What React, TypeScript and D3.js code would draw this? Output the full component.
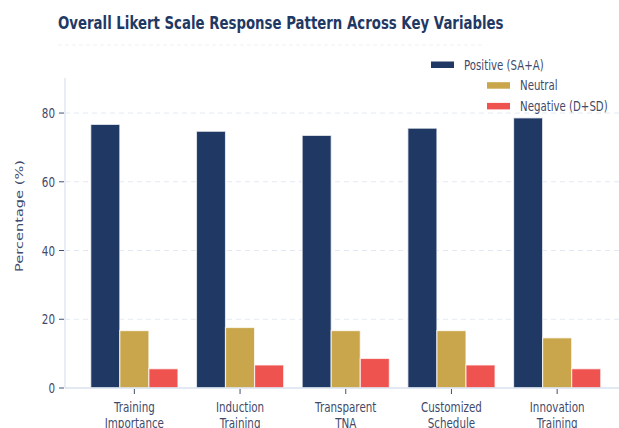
import React from 'react';
import * as d3 from 'd3';

const categories = [
  ['Training', 'Importance'],
  ['Induction', 'Training'],
  ['Transparent', 'TNA'],
  ['Customized', 'Schedule'],
  ['Innovation', 'Training'],
];
const seriesNames = ['Positive (SA+A)', 'Neutral', 'Negative (D+SD)'];
const positive = [76.7, 74.7, 73.5, 75.6, 78.6];
const neutral = [16.7, 17.6, 16.7, 16.7, 14.6];
const negative = [5.6, 6.7, 8.6, 6.7, 5.6];
const yTicks = [0, 20, 40, 60, 80];

const colors = ['#203864', '#c9a64b', '#ef5350'];
const textColor = '#3f4a6a';
const SX = 0.74; // horizontal squash of the source image

const W = 619;
const H = 428;
const plot = { left: 65, right: 619, top: 78, bottom: 388 };

// text squashed horizontally around its anchor point
const SText = ({ x, y, children, anchor = 'middle', size = 14, fill = textColor, rotate = 0, weight = 'normal' }: any) => (
  <text
    transform={`translate(${x},${y}) scale(${SX},1)${rotate ? ` rotate(${rotate})` : ''}`}
    textAnchor={anchor}
    fontSize={size}
    fontWeight={weight}
    fill={fill}
    fontFamily="'DejaVu Sans', sans-serif"
  >
    {children}
  </text>
);

const App = () => {
  const names = categories.map((c) => c.join(' '));
  const series = [positive, neutral, negative];

  const x0 = d3.scaleBand().domain(names).range([81.5, 610]).paddingInner(0.175).paddingOuter(0.0875);
  const x1 = d3.scaleBand().domain(seriesNames).range([0, x0.bandwidth()]);
  const y = d3.scaleLinear().domain([0, 90.2]).range([plot.bottom, plot.top]);

  return (
    <svg width={W} height={H} style={{ position: 'absolute', left: 0, top: 0, background: '#fff' }}>
      {/* title */}
      <SText x={58} y={29} anchor="start" size={18} weight="bold" fill="#1f3864">
        Overall Likert Scale Response Pattern Across Key Variables
      </SText>
      <line x1={58} x2={482} y1={45} y2={45} stroke="#eef1f6" strokeDasharray="4,3" />

      {/* grid */}
      {yTicks.filter((t) => t > 0).map((t) => (
        <line key={t} x1={plot.left} x2={plot.right} y1={y(t)} y2={y(t)} stroke="#e3e9f2" strokeDasharray="5,4" />
      ))}

      {/* bars */}
      {names.map((name, i) => (
        <g key={name} transform={`translate(${x0(name)},0)`}>
          {series.map((vals, j) => (
            <rect
              key={j}
              x={x1(seriesNames[j])}
              y={y(vals[i])}
              width={x1.bandwidth()}
              height={y(0) - y(vals[i])}
              fill={colors[j]}
              stroke="#ffffff"
              strokeOpacity={0.7}
              strokeWidth={1.2}
            />
          ))}
        </g>
      ))}

      {/* axes lines */}
      <line x1={plot.left} x2={plot.left} y1={plot.top} y2={plot.bottom} stroke="#d8e2ef" strokeWidth={1.2} />
      <line x1={plot.left} x2={plot.right} y1={plot.bottom} y2={plot.bottom} stroke="#d8e2ef" strokeWidth={1.5} />

      {/* y ticks */}
      {yTicks.map((t) => (
        <g key={t}>
          <line x1={59} x2={64} y1={y(t)} y2={y(t)} stroke="#44506e" />
          <SText x={55} y={y(t) + 5} anchor="end" size={14}>{t}</SText>
        </g>
      ))}
      <SText x={22.5} y={216} size={14.6} rotate={-90}>Percentage (%)</SText>

      {/* x ticks */}
      {names.map((name, i) => {
        const cx = (x0(name) as number) + x0.bandwidth() / 2;
        return (
          <g key={name}>
            <line x1={cx} x2={cx} y1={389} y2={394} stroke="#44506e" />
            <SText x={cx} y={412} size={14}>{categories[i][0]}</SText>
            <SText x={cx} y={428} size={14}>{categories[i][1]}</SText>
          </g>
        );
      })}

      {/* legend */}
      {seriesNames.map((s, j) => {
        const lx = j === 0 ? 431 : 487;
        const ly = 61.5 + j * 20.7;
        return (
          <g key={s}>
            <rect x={lx} y={ly} width={23} height={6.5} fill={colors[j]} />
            <SText x={lx + 33} y={ly + 8} anchor="start" size={13.8}>{s}</SText>
          </g>
        );
      })}
    </svg>
  );
};

export default App;
